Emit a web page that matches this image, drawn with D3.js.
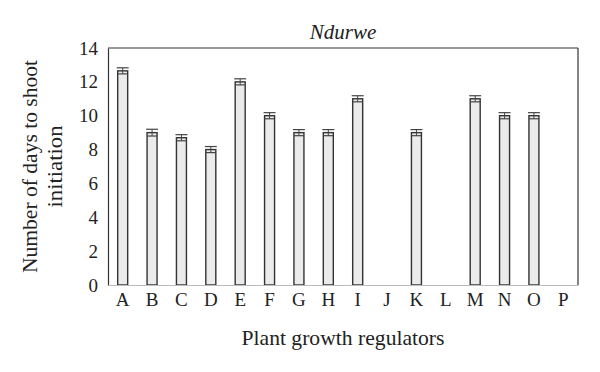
<!DOCTYPE html>
<html>
<head>
<meta charset="utf-8">
<script src="https://cdn.jsdelivr.net/npm/d3@7"></script>
<style>
  body { margin: 0; background: #fff; }
  svg text { font-family: "Liberation Serif", "DejaVu Serif", serif; fill: #222; }
</style>
</head>
<body>
<div id="chart"></div>
<script>
const categories = ["A","B","C","D","E","F","G","H","I","J","K","L","M","N","O","P"];
const values = [12.65, 9, 8.7, 8, 12, 10, 9, 9, 11, 0, 9, 0, 11, 10, 10, 0];
const errors = [0.18, 0.2, 0.18, 0.18, 0.18, 0.18, 0.18, 0.18, 0.18, 0, 0.18, 0, 0.18, 0.18, 0.18, 0];
const yTicks = [0, 2, 4, 6, 8, 10, 12, 14];

const W = 600, H = 372;
const margin = {top: 48, right: 22, bottom: 87, left: 108};
const width = W - margin.left - margin.right;
const height = H - margin.top - margin.bottom;

const svg = d3.select("#chart").append("svg")
    .attr("width", W).attr("height", H);

const g = svg.append("g")
    .attr("transform", "translate(" + margin.left + "," + margin.top + ")");

const x = d3.scaleBand().domain(categories).range([0, width]).paddingInner(0.66).paddingOuter(0.33);
const y = d3.scaleLinear().domain([0, 14]).range([height, 0]);

// frame: top and right lines
g.append("line").attr("x1", 0).attr("x2", width).attr("y1", 0).attr("y2", 0)
    .attr("stroke", "#333").attr("stroke-width", 1.2);
g.append("line").attr("x1", width).attr("x2", width).attr("y1", 0).attr("y2", height)
    .attr("stroke", "#333").attr("stroke-width", 1.2);

const data = categories.map((c, i) => ({c, v: values[i], e: errors[i]})).filter(d => d.v > 0);

// bars
const bw = 10;
g.selectAll(".bar")
    .data(data)
    .join("rect")
    .attr("class", "bar")
    .attr("x", d => x(d.c) + x.bandwidth() / 2 - bw / 2)
    .attr("y", d => y(d.v))
    .attr("width", bw)
    .attr("height", d => height - y(d.v))
    .attr("fill", "#ebebeb")
    .attr("stroke", "#333")
    .attr("stroke-width", 1.4);

// error bars
const errG = g.selectAll(".err")
    .data(data)
    .join("g").attr("class", "err")
    .attr("transform", d => "translate(" + (x(d.c) + x.bandwidth() / 2) + ",0)");
errG.append("line").attr("x1", 0).attr("x2", 0)
    .attr("y1", d => y(d.v - d.e)).attr("y2", d => y(d.v + d.e))
    .attr("stroke", "#444").attr("stroke-width", 1);
errG.append("line").attr("x1", -6).attr("x2", 6)
    .attr("y1", d => y(d.v + d.e)).attr("y2", d => y(d.v + d.e))
    .attr("stroke", "#444").attr("stroke-width", 1.2);
errG.append("line").attr("x1", -5).attr("x2", 5)
    .attr("y1", d => y(d.v - d.e)).attr("y2", d => y(d.v - d.e))
    .attr("stroke", "#444").attr("stroke-width", 1.2);

// y axis
const yAxis = g.append("g")
    .call(d3.axisLeft(y).tickValues(yTicks).tickSize(0).tickPadding(10));
yAxis.select(".domain").attr("stroke", "#333").attr("stroke-width", 1.2);
yAxis.selectAll("text").attr("font-size", 19).attr("font-family", "Liberation Serif").attr("fill", "#222");

// x axis
const xAxis = g.append("g")
    .attr("transform", "translate(0," + height + ")")
    .call(d3.axisBottom(x).tickSize(0).tickPadding(8));
xAxis.select(".domain").attr("stroke", "#bbb").attr("stroke-width", 1.2);
xAxis.selectAll("text").attr("font-size", 19).attr("font-family", "Liberation Serif").attr("fill", "#222");

// title
svg.append("text")
    .attr("x", margin.left + width / 2).attr("y", 39)
    .attr("text-anchor", "middle")
    .style("font-size", "21px").style("font-style", "italic")
    .text("Ndurwe");

// x label
svg.append("text")
    .attr("x", margin.left + width / 2).attr("y", 345)
    .attr("text-anchor", "middle")
    .style("font-size", "22px")
    .attr("textLength", 203).attr("lengthAdjust", "spacingAndGlyphs")
    .text("Plant growth regulators");

// y label
const yl = svg.append("text")
    .attr("transform", "translate(37," + (margin.top + height / 2) + ") rotate(-90)")
    .attr("text-anchor", "middle")
    .style("font-size", "22px");
yl.append("tspan").attr("x", 0).attr("dy", 0)
    .attr("textLength", 213).attr("lengthAdjust", "spacingAndGlyphs")
    .text("Number of days to shoot");
yl.append("tspan").attr("x", 0).attr("dy", 25)
    .attr("textLength", 82).attr("lengthAdjust", "spacingAndGlyphs")
    .text("initiation");
</script>
</body>
</html>
